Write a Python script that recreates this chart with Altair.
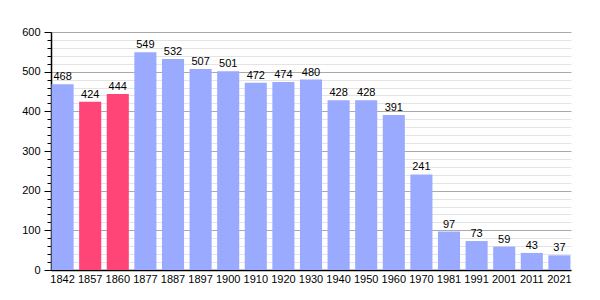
import altair as alt
import pandas as pd

years = ["1842", "1857", "1860", "1877", "1887", "1897", "1900", "1910", "1920", "1930",
         "1940", "1950", "1960", "1970", "1981", "1991", "2001", "2011", "2021"]
population = [468, 424, 444, 549, 532, 507, 501, 472, 474, 480,
              428, 428, 391, 241, 97, 73, 59, 43, 37]
highlighted = ["1857", "1860"]

df = pd.DataFrame({"year": years, "pop": population})
df["hl"] = df["year"].isin(highlighted)

y_ticks = list(range(0, 601, 20))

base = alt.Chart(df).encode(
    x=alt.X("year:N", sort=years, title=None,
            scale=alt.Scale(paddingInner=0.2, paddingOuter=0.02),
            axis=alt.Axis(labelAngle=0, ticks=False, domainColor="black", labelColor="black",
                          labelFont="Liberation Sans", labelFontSize=11, labelPadding=3,
                          domainWidth=1.5, grid=False)),
    y=alt.Y("pop:Q", title=None,
            scale=alt.Scale(domain=[0, 600], nice=False),
            axis=alt.Axis(values=y_ticks, labelOverlap=False, labelFlush=False, grid=True,
                          labelExpr="datum.value % 100 === 0 ? datum.label : ''",
                          gridColor={"condition": {"test": "datum.value % 100 === 0", "value": "#aaaaaa"}, "value": "#e4e4e4"},
                          tickSize={"condition": {"test": "datum.value % 100 === 0", "value": 7}, "value": 4},
                          tickColor="black", domainColor="black", domainWidth=1.5,
                          labelColor="black", labelFont="Liberation Sans", labelFontSize=11,
                          labelPadding=4)),
)

bars = base.mark_bar().encode(
    color=alt.Color("hl:N", scale=alt.Scale(domain=[False, True], range=["#99aaff", "#ff4477"]), legend=None),
)

labels = base.mark_text(dy=-7, font="Liberation Sans", fontSize=11, color="black").encode(
    text="pop:Q",
)

chart = (bars + labels).properties(
    width=520, height=238,
    autosize=alt.AutoSizeParams(type="none"),
    padding={"left": 51, "top": 32, "right": 29, "bottom": 30},
).configure_view(stroke=None)

chart.save("out.html", embed_options={"renderer": "svg", "actions": False})
